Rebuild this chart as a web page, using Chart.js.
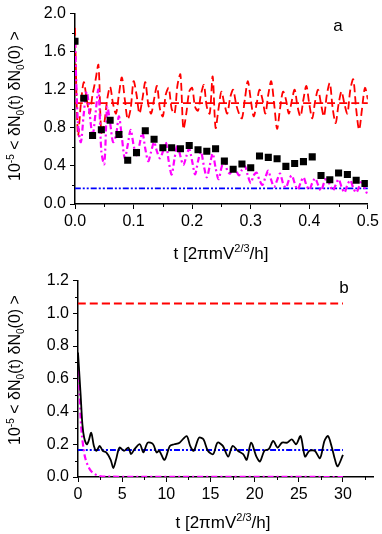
<!DOCTYPE html>
<html>
<head>
<meta charset="utf-8">
<script src="https://cdn.jsdelivr.net/npm/chart.js@4/dist/chart.umd.min.js"></script>
<style>
html, body { margin: 0; padding: 0; background: #fff; }
#wrap { position: relative; width: 382px; height: 534px; }
canvas { position: absolute; left: 0; }
#c1 { top: 0; }
#c2 { top: 267px; }
</style>
</head>
<body>
<div id="wrap">
  <canvas id="c1" width="382" height="267"></canvas>
  <canvas id="c2" width="382" height="267"></canvas>
</div>
<script>
const FAM = '"Liberation Sans", Arial, sans-serif';

// ---- panel a ----
const tA = [0.000,0.005,0.010,0.015,0.020,0.025,0.030,0.035,0.040,0.045,
            0.050,0.055,0.060,0.065,0.070,0.075,0.080,0.085,0.090,0.095,
            0.100,0.105,0.110,0.115,0.120,0.125,0.130,0.135,0.140,0.145,
            0.150,0.155,0.160,0.165,0.170,0.175,0.180,0.185,0.190,0.195,
            0.200,0.205,0.210,0.215,0.220,0.225,0.230,0.235,0.240,0.245,
            0.250,0.255,0.260,0.265,0.270,0.275,0.280,0.285,0.290,0.295,
            0.300,0.305,0.310,0.315,0.320,0.325,0.330,0.335,0.340,0.345,
            0.350,0.355,0.360,0.365,0.370,0.375,0.380,0.385,0.390,0.395,
            0.400,0.405,0.410,0.415,0.420,0.425,0.430,0.435,0.440,0.445,
            0.450,0.455,0.460,0.465,0.470,0.475,0.480,0.485,0.490,0.495,0.500];
const redA = [1.85,0.72,1.05,1.28,1.10,0.95,1.15,1.30,1.46,0.75,
              0.85,1.10,1.23,1.05,0.95,1.15,1.33,1.10,0.89,1.00,
              1.29,1.15,0.95,1.10,1.28,1.05,0.95,1.10,1.24,1.00,
              0.92,1.15,1.22,1.00,0.95,1.25,1.36,0.79,0.95,1.18,
              1.22,1.02,0.98,1.15,1.25,1.02,0.95,1.34,0.80,1.00,
              1.18,1.05,0.95,1.12,1.20,1.05,0.95,0.90,1.10,1.29,
              1.10,0.92,1.05,1.20,1.10,0.95,1.15,1.29,1.05,0.79,
              1.00,1.18,1.10,0.95,1.08,1.20,1.02,0.92,1.10,1.24,
              1.05,0.90,1.08,1.20,1.05,0.92,1.15,1.27,1.00,0.85,
              1.05,1.18,1.05,0.95,1.20,1.31,1.00,0.78,1.00,1.22,1.10];
const magentaA = [1.70,0.85,0.65,0.95,1.18,0.95,0.72,0.95,1.20,0.55,
                  0.42,1.02,0.85,0.65,0.72,0.92,0.70,0.48,0.62,0.78,
                  0.62,0.51,0.62,0.75,0.58,0.45,0.55,0.65,0.55,0.48,
                  0.55,0.65,0.45,0.31,0.48,0.62,0.50,0.41,0.50,0.58,
                  0.45,0.31,0.45,0.55,0.40,0.28,0.40,0.53,0.38,0.26,
                  0.38,0.48,0.35,0.32,0.38,0.35,0.30,0.36,0.40,0.30,
                  0.22,0.30,0.33,0.25,0.20,0.28,0.35,0.25,0.18,0.25,
                  0.32,0.22,0.17,0.25,0.30,0.22,0.15,0.22,0.28,0.20,
                  0.15,0.22,0.27,0.20,0.14,0.22,0.28,0.20,0.14,0.20,
                  0.26,0.18,0.12,0.20,0.25,0.17,0.12,0.18,0.24,0.16,0.09];
const tSquares = [0.000,0.015,0.030,0.045,0.060,0.075,0.090,0.105,0.120,0.135,
                  0.150,0.165,0.180,0.195,0.210,0.225,0.240,0.255,0.270,0.285,
                  0.300,0.315,0.330,0.345,0.360,0.375,0.390,0.405,0.420,0.435,
                  0.450,0.465,0.480,0.495];
const squaresA = [1.71,1.11,0.72,0.78,0.88,0.73,0.46,0.54,0.77,0.68,
                  0.59,0.59,0.58,0.615,0.57,0.555,0.58,0.45,0.365,0.42,
                  0.38,0.505,0.49,0.475,0.395,0.425,0.445,0.495,0.30,0.255,
                  0.325,0.31,0.25,0.215];
const tLineA = [0, 0.5];
const redLevelA = [1.06, 1.06];
const blueLevelA = [0.165, 0.165];
const xTicksA = [0, 0.1, 0.2, 0.3, 0.4, 0.5];
const xMinorA = [0.05, 0.15, 0.25, 0.35, 0.45];
const yTicksA = [0, 0.4, 0.8, 1.2, 1.6, 2.0];
const yMinorA = [0.2, 0.6, 1.0, 1.4, 1.8];

// ---- panel b ----
const tBlackB = [0,0.3,0.5,0.7,1.0,1.2,1.5,1.8,2.1,2.45,2.8,3.2,3.7,4.0,4.3,4.7,
                 5.2,5.7,6.0,6.4,7.0,7.4,7.9,8.5,8.9,9.2,9.8,10.4,10.9,11.5,12.3,12.7,
                 13.1,13.7,14.2,14.7,15.3,15.8,16.4,17.0,17.5,18.1,18.7,19.1,19.6,20.2,20.6,21.1,
                 21.6,22.1,22.6,23.1,23.7,24.2,24.7,25.2,25.7,26.2,26.8,27.4,27.9,28.3,28.7,29.1,
                 29.4,30.0];
const blackB = [0.76,0.50,0.32,0.24,0.20,0.22,0.27,0.19,0.16,0.19,0.16,0.15,0.105,0.055,0.105,0.18,
                0.16,0.18,0.14,0.17,0.20,0.15,0.21,0.20,0.15,0.16,0.105,0.19,0.20,0.21,0.25,0.19,
                0.16,0.24,0.23,0.16,0.14,0.21,0.19,0.125,0.19,0.16,0.14,0.105,0.21,0.125,0.095,0.16,
                0.17,0.22,0.18,0.21,0.21,0.23,0.20,0.25,0.125,0.16,0.16,0.115,0.22,0.25,0.19,0.105,
                0.065,0.135];
const tMagentaB = [0,0.15,0.3,0.45,0.64,0.8,1.0,1.25,1.5,1.9,2.3,3.0,30];
const magentaB = [0.65,0.55,0.36,0.25,0.17,0.12,0.085,0.055,0.035,0.018,0.008,0.002,0];
const tLineB = [0, 30];
const redLevelB = [1.06, 1.06];
const blueLevelB = [0.165, 0.165];
const xTicksB = [0, 5, 10, 15, 20, 25, 30];
const xMinorB = [2.5, 7.5, 12.5, 17.5, 22.5, 27.5, 32.5];
const yTicksB = [0, 0.2, 0.4, 0.6, 0.8, 1.0, 1.2];
const yMinorB = [0.1, 0.3, 0.5, 0.7, 0.9, 1.1];

const yTitle = [['10',0],['-5',1],[' < \u03b4N',0],['0',-1],['(t) \u03b4N',0],['0',-1],['(0) >',0]];
const xTitle = [['t [2\u03c0mV',0],['2/3',1],['/h]',0]];

function pts(xs, ys) {
  return xs.map((x, i) => ({ x: x, y: ys[i] }));
}

function drawRich(ctx, parts, size, cx, by) {
  const small = Math.round(size * 0.65);
  let w = 0;
  parts.forEach(p => {
    ctx.font = (p[1] ? small : size) + 'px ' + FAM;
    w += ctx.measureText(p[0]).width;
  });
  let x = cx - w / 2;
  parts.forEach(p => {
    ctx.font = (p[1] ? small : size) + 'px ' + FAM;
    const dy = p[1] === 1 ? -size * 0.4 : (p[1] === -1 ? size * 0.25 : 0);
    ctx.fillText(p[0], x, by + dy);
    x += ctx.measureText(p[0]).width;
  });
}

// titles, panel letter and minor ticks
const decor = {
  id: 'decor',
  afterDraw(chart, args, o) {
    const ctx = chart.ctx, a = chart.chartArea;
    const xs = chart.scales.x, ys = chart.scales.y;
    ctx.save();
    ctx.strokeStyle = '#000';
    ctx.lineWidth = 1;
    ctx.beginPath();
    o.xm.forEach(v => {
      const px = Math.round(xs.getPixelForValue(v)) + 0.5;
      ctx.moveTo(px, a.bottom); ctx.lineTo(px, a.bottom + 3);
    });
    o.ym.forEach(v => {
      const py = Math.round(ys.getPixelForValue(v)) + 0.5;
      ctx.moveTo(a.left, py); ctx.lineTo(a.left - 3, py);
    });
    ctx.stroke();
    ctx.fillStyle = '#000';
    ctx.textBaseline = 'alphabetic';
    ctx.textAlign = 'left';
    drawRich(ctx, xTitle, 17, o.xtx, o.xty);
    ctx.save();
    ctx.translate(o.ytx, o.yty);
    ctx.rotate(-Math.PI / 2);
    drawRich(ctx, yTitle, 16, 0, 0);
    ctx.restore();
    ctx.font = '17px ' + FAM;
    ctx.textAlign = 'center';
    ctx.fillText(o.letter, o.lx, o.ly);
    ctx.restore();
  }
};

function axes(xmin, xmax, xt, ymax, yt, yw, xh) {
  const tickFont = { size: 16, family: FAM };
  return {
    x: {
      type: 'linear', min: xmin, max: xmax,
      grid: { drawOnChartArea: false, tickLength: 5, tickColor: '#000', color: '#000' },
      border: { color: '#000', width: 1.5 },
      ticks: { color: '#000', font: tickFont, padding: 3, maxRotation: 0,
               callback: v => (xmax < 1 ? v.toFixed(1) : String(v)) },
      afterBuildTicks: s => { s.ticks = xt.map(v => ({ value: v })); },
      afterFit: s => { s.height = xh; }
    },
    y: {
      type: 'linear', min: 0, max: ymax,
      grid: { drawOnChartArea: false, tickLength: 5, tickColor: '#000', color: '#000' },
      border: { color: '#000', width: 1.5 },
      ticks: { color: '#000', font: tickFont, padding: 4, callback: v => v.toFixed(1) },
      afterBuildTicks: s => { s.ticks = yt.map(v => ({ value: v })); },
      afterFit: s => { s.width = yw; }
    }
  };
}

const line = (data, color, width, dash, order) => ({
  type: 'line', data: data, borderColor: color, borderWidth: width, borderDash: dash,
  pointRadius: 0, fill: false, tension: 0.3, order: order
});

new Chart(document.getElementById('c1'), {
  data: {
    datasets: [
      line(pts(tLineA, blueLevelA), '#0000ff', 1.8, [6, 2, 2, 2, 2, 2], 4),
      line(pts(tLineA, redLevelA), '#ff0000', 1.8, [8, 4], 3),
      line(pts(tA, redA), '#ff0000', 1.8, [8, 4], 2),
      line(pts(tA, magentaA), '#ff00ff', 2.2, [6, 3, 2, 3], 1),
      { type: 'scatter', data: pts(tSquares, squaresA), pointStyle: 'rect', pointRadius: 5,
        backgroundColor: '#000', borderColor: '#000', borderWidth: 0, order: 0 }
    ]
  },
  options: {
    responsive: false, animation: false,
    layout: { padding: { top: 7, right: 13, left: 0, bottom: 0 } },
    plugins: {
      legend: { display: false }, tooltip: { enabled: false },
      decor: { xm: xMinorA, ym: yMinorA, xtx: 221, xty: 259, ytx: 20, yty: 106, letter: 'a', lx: 338, ly: 31 }
    },
    scales: axes(0, 0.5, xTicksA, 2.0, yTicksA, 75, 63)
  },
  plugins: [decor]
});

new Chart(document.getElementById('c2'), {
  data: {
    datasets: [
      line(pts(tLineB, redLevelB), '#ff0000', 2.2, [8, 4], 3),
      line(pts(tLineB, blueLevelB), '#0000ff', 1.8, [6, 2, 2, 2, 2, 2], 2),
      line(pts(tMagentaB, magentaB), '#ff00ff', 2.2, [6, 3, 2, 3], 1),
      line(pts(tBlackB, blackB), '#000000', 1.8, [], 0)
    ]
  },
  options: {
    responsive: false, animation: false,
    layout: { padding: { top: 13, right: 9, left: 0, bottom: 0 } },
    plugins: {
      legend: { display: false }, tooltip: { enabled: false },
      decor: { xm: xMinorB, ym: yMinorB, xtx: 223, xty: 261, ytx: 20, yty: 103, letter: 'b', lx: 344, ly: 26 }
    },
    scales: axes(0, 33.4, xTicksB, 1.2, yTicksB, 78, 57)
  },
  plugins: [decor]
});
</script>
</body>
</html>
